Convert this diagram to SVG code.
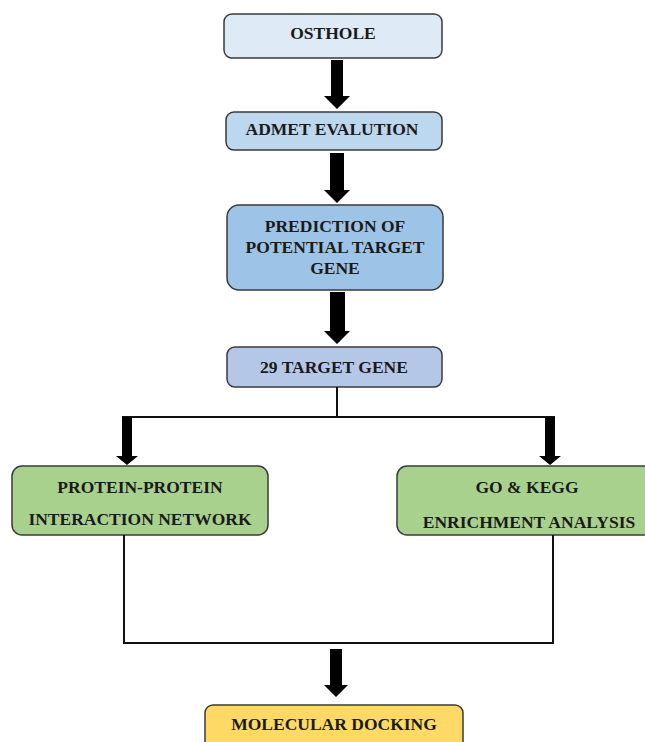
<svg xmlns="http://www.w3.org/2000/svg" width="645" height="742" viewBox="0 0 645 742">
<style>
.box{stroke:#3a3a3a;stroke-width:1.5}
.t{font-family:"Liberation Serif","Times New Roman",serif;font-weight:bold;font-size:17.5px;fill:#1a1a1a;text-anchor:middle}
.ln{stroke:#111;stroke-width:2;fill:none}
.ar{fill:#000}
</style>
<rect width="645" height="742" fill="#fff"/>
<g id="osthole"><rect class="box" x="224" y="14" width="218" height="44" rx="8" fill="#deebf7"/><text class="t" x="333" y="39">OSTHOLE</text></g>
<g id="admet"><rect class="box" x="226" y="112" width="216" height="38" rx="8" fill="#bdd7ee"/><text class="t" x="332" y="135">ADMET EVALUTION</text></g>
<g id="prediction"><rect class="box" x="227" y="205" width="216" height="85" rx="12" fill="#9dc3e6"/><text class="t" x="335" y="232">PREDICTION OF</text><text class="t" x="335" y="253">POTENTIAL TARGET</text><text class="t" x="335" y="274">GENE</text></g>
<g id="target29"><rect class="box" x="227" y="347" width="215" height="40" rx="8" fill="#b4c7e7"/><text class="t" x="334" y="373">29 TARGET GENE</text></g>
<g id="ppi"><rect class="box" x="12" y="466" width="256" height="69" rx="10" fill="#a9d18e"/><text class="t" x="140" y="493">PROTEIN-PROTEIN</text><text class="t" x="140" y="525">INTERACTION NETWORK</text></g>
<g id="gokegg"><rect class="box" x="397" y="466" width="256" height="69" rx="10" fill="#a9d18e"/><text class="t" x="527" y="493">GO &amp; KEGG</text><text class="t" x="529" y="528">ENRICHMENT ANALYSIS</text></g>
<g id="docking"><rect class="box" x="205" y="705" width="258" height="50" rx="8" fill="#ffd966"/><text class="t" x="334" y="730">MOLECULAR DOCKING</text></g>
<g id="connectors">
<polygon class="ar" points="331,60 343,60 343,96 350,96 337,109 324,96 331,96"/>
<polygon class="ar" points="330,153 344,153 344,190 350,190 337,203 324,190 330,190"/>
<polygon class="ar" points="330,292 345,292 345,331 350,331 337,344 324,331 330,331"/>
<path class="ln" d="M337,387 V417 M122,417 H555"/>
<polygon class="ar" points="122,417 132,417 132,456 138,456 127,465 116,456 122,456"/>
<polygon class="ar" points="545,417 555,417 555,456 561,456 550,465 539,456 545,456"/>
<path class="ln" d="M124,535 V643 H553 V535"/>
<polygon class="ar" points="330,649 342,649 342,685 348,685 336,697 324,685 330,685"/>
</g>
</svg>
